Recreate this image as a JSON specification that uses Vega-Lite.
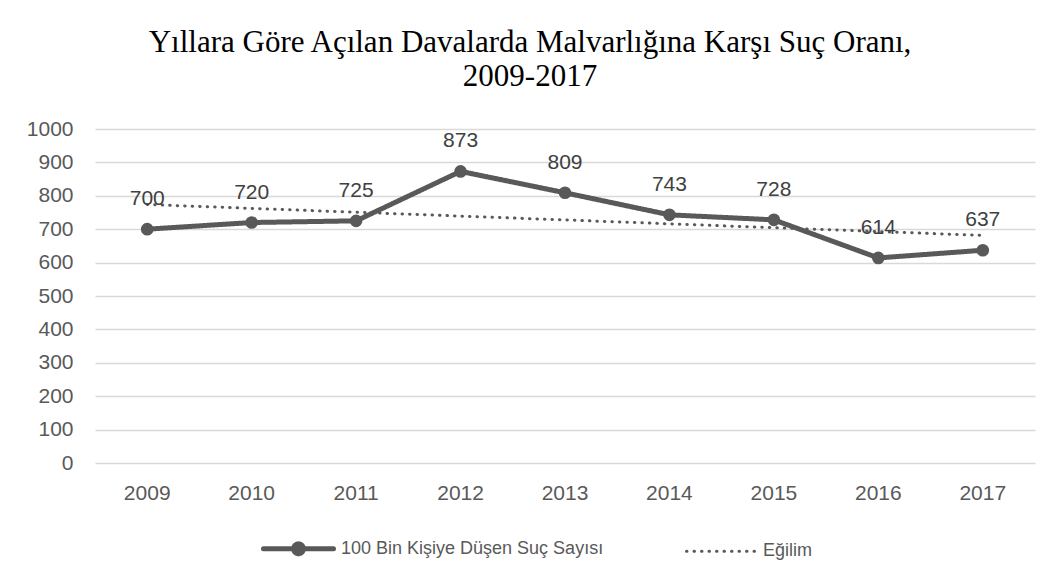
{
  "$schema": "https://vega.github.io/schema/vega-lite/v6.json",
  "width": 940,
  "height": 334,
  "autosize": {"type": "none"},
  "padding": {"left": 95, "top": 129, "right": 23, "bottom": 122},
  "background": "white",
  "title": {
    "text": ["Yıllara Göre Açılan Davalarda Malvarlığına Karşı Suç Oranı,", "2009-2017"],
    "font": "Liberation Serif",
    "fontSize": 31,
    "fontWeight": "normal",
    "color": "#000000",
    "lineHeight": 34,
    "anchor": "middle",
    "dx": -35,
    "offset": 25
  },
  "config": {
    "view": {"stroke": null},
    "axis": {
      "labelFont": "Liberation Sans",
      "labelFontSize": 21,
      "labelColor": "#595959",
      "ticks": false,
      "title": null,
      "gridColor": "#d9d9d9",
      "gridWidth": 1.5,
      "domain": false
    }
  },
  "data": {
    "values": [
      {"year": "2009", "series": "100 Bin Kişiye Düşen Suç Sayısı", "value": 700},
      {"year": "2010", "series": "100 Bin Kişiye Düşen Suç Sayısı", "value": 720},
      {"year": "2011", "series": "100 Bin Kişiye Düşen Suç Sayısı", "value": 725},
      {"year": "2012", "series": "100 Bin Kişiye Düşen Suç Sayısı", "value": 873},
      {"year": "2013", "series": "100 Bin Kişiye Düşen Suç Sayısı", "value": 809},
      {"year": "2014", "series": "100 Bin Kişiye Düşen Suç Sayısı", "value": 743},
      {"year": "2015", "series": "100 Bin Kişiye Düşen Suç Sayısı", "value": 728},
      {"year": "2016", "series": "100 Bin Kişiye Düşen Suç Sayısı", "value": 614},
      {"year": "2017", "series": "100 Bin Kişiye Düşen Suç Sayısı", "value": 637},
      {"year": "2009", "series": "Eğilim", "value": 773.9},
      {"year": "2010", "series": "Eğilim", "value": 762.3},
      {"year": "2011", "series": "Eğilim", "value": 750.8},
      {"year": "2012", "series": "Eğilim", "value": 739.2},
      {"year": "2013", "series": "Eğilim", "value": 727.7},
      {"year": "2014", "series": "Eğilim", "value": 716.1},
      {"year": "2015", "series": "Eğilim", "value": 704.5},
      {"year": "2016", "series": "Eğilim", "value": 693.0},
      {"year": "2017", "series": "Eğilim", "value": 681.4}
    ]
  },
  "encoding": {
    "x": {
      "field": "year",
      "type": "nominal",
      "scale": {"type": "band", "paddingInner": 0, "paddingOuter": 0},
      "axis": {"labelAngle": 0, "labelPadding": 19, "grid": false}
    },
    "y": {
      "field": "value",
      "type": "quantitative",
      "scale": {"domain": [0, 1000]},
      "axis": {"values": [0, 100, 200, 300, 400, 500, 600, 700, 800, 900, 1000], "format": "d", "labelPadding": 22, "grid": true}
    }
  },
  "layer": [
    {
      "mark": {"type": "line", "strokeCap": "round", "strokeJoin": "round"},
      "encoding": {
        "color": {
          "field": "series",
          "type": "nominal",
          "scale": {"domain": ["100 Bin Kişiye Düşen Suç Sayısı", "Eğilim"], "range": ["#595959", "#595959"]},
          "legend": {
            "orient": "none",
            "legendX": 166,
            "legendY": 382,
            "direction": "horizontal",
            "title": null,
            "labelFont": "Liberation Sans",
            "labelFontSize": 18,
            "labelColor": "#595959",
            "labelLimit": 0,
            "symbolSize": 4900,
            "symbolType": "stroke",
            "columnPadding": 76,
            "labelOffset": 5,
            "encode": {
              "symbols": {
                "update": {
                  "shape": {"signal": "datum.value === 'Eğilim' ? 'stroke' : 'M-1,0H1M0.14,0A0.14,0.14 0 1 1 -0.14,0A0.14,0.14 0 1 1 0.14,0Z'"},
                  "strokeWidth": {"signal": "datum.value === 'Eğilim' ? 3 : 5"},
                  "fill": {"signal": "datum.value === 'Eğilim' ? 'transparent' : '#595959'"},
                  "stroke": {"value": "#595959"},
                  "strokeCap": {"value": "round"}
                }
              }
            }
          }
        },
        "strokeDash": {
          "field": "series",
          "type": "nominal",
          "scale": {"domain": ["100 Bin Kişiye Düşen Suç Sayısı", "Eğilim"], "range": [[1, 0], [0.5, 7]]},
          "legend": null
        },
        "strokeWidth": {
          "field": "series",
          "type": "nominal",
          "scale": {"domain": ["100 Bin Kişiye Düşen Suç Sayısı", "Eğilim"], "range": [5, 3]},
          "legend": null
        }
      }
    },
    {
      "transform": [{"filter": "datum.series !== 'Eğilim'"}],
      "mark": {"type": "point", "filled": true, "size": 160, "color": "#595959", "opacity": 1}
    },
    {
      "transform": [{"filter": "datum.series !== 'Eğilim'"}],
      "mark": {"type": "text", "dy": -30, "baseline": "middle", "font": "Liberation Sans", "fontSize": 21, "color": "#404040"},
      "encoding": {"text": {"field": "value", "type": "quantitative"}}
    }
  ]
}
